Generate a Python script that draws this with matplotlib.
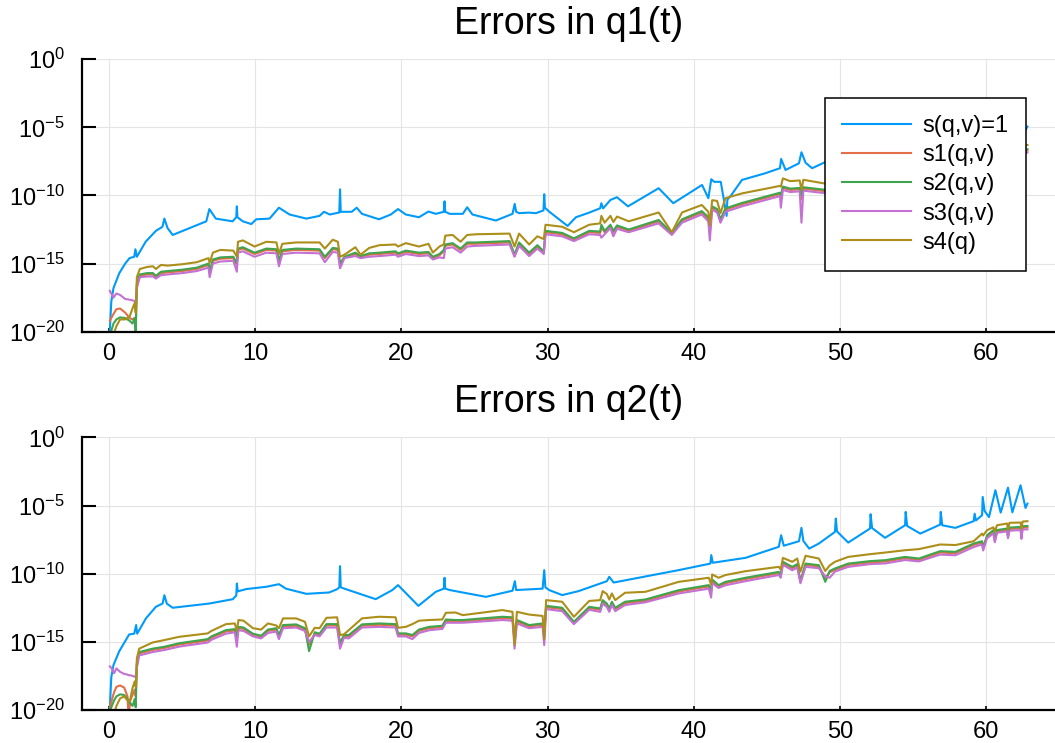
import matplotlib.pyplot as plt
import numpy as np
from matplotlib.ticker import FixedLocator, FuncFormatter

plt.rcParams['font.family'] = ['Liberation Sans', 'DejaVu Sans']
plt.rcParams['mathtext.fontset'] = 'custom'
plt.rcParams['mathtext.rm'] = 'Liberation Sans'
plt.rcParams['mathtext.it'] = 'Liberation Sans:italic'
plt.rcParams['mathtext.default'] = 'regular'

labels = ['s(q,v)=1', 's1(q,v)', 's2(q,v)', 's3(q,v)', 's4(q)']
colors = ['#009AFA', '#E36F47', '#3EA44E', '#C371D2', '#AC8E18']
titles = ['Errors in q1(t)', 'Errors in q2(t)']
xticks = [0, 10, 20, 30, 40, 50, 60]
yticks = [-20, -15, -10, -5, 0]   # exponents of 10

# values below are log10 of the error

# ---- q1(t) ----
q1_t_s0 = [0.02, 0.15, 0.3, 0.7, 1.1, 1.4, 1.72, 1.8, 1.9, 2.5,
           3.2, 3.65, 3.78, 4.0, 4.35, 5.5, 6.65, 6.86, 7.3, 8.45,
           8.7, 8.74, 8.78, 9.15, 9.73, 10.07, 10.98, 11.62, 12.35, 13.5,
           14.4, 14.7, 15.1, 15.75, 15.8, 15.85, 16.6, 16.94, 17.3, 18.47,
           19.27, 19.77, 20.3, 21.2, 21.85, 22.35, 22.9, 22.95, 23.0, 23.3,
           24.2, 24.5, 24.86, 26.46, 27.6, 27.75, 27.85, 28.06, 28.7, 29.2,
           29.72, 29.77, 29.82, 30.1, 31.37, 31.94, 32.85, 33.6, 33.68, 33.8,
           34.3, 34.75, 35.5, 37.6, 38.6, 40.57, 41.0, 41.2, 41.4, 41.85,
           42.25, 42.3, 42.5, 43.3, 44.9, 45.9, 45.98, 46.28, 47.2, 47.37,
           47.65, 48.1, 49.1, 55.0, 62.5, 62.65, 62.83]
q1_s0 = [-20.5, -17.8, -16.8, -15.7, -15.0, -14.6, -14.5, -13.95, -14.5, -13.4,
         -12.6, -12.3, -11.7, -12.4, -12.9, -12.4, -11.9, -11.0, -11.7, -11.9,
         -11.6, -10.8, -11.6, -11.9, -12.1, -11.75, -11.7, -10.9, -11.4, -11.7,
         -11.5, -11.2, -11.4, -11.25, -9.55, -11.2, -11.2, -10.9, -11.35, -11.75,
         -11.4, -11.0, -11.4, -11.6, -11.18, -11.35, -11.2, -10.43, -11.2, -11.35,
         -11.35, -10.87, -11.4, -11.84, -11.35, -10.62, -11.2, -11.3, -11.26, -11.3,
         -11.1, -9.91, -10.9, -11.18, -12.24, -11.6, -11.26, -10.94, -10.57, -10.95,
         -10.33, -10.13, -10.8, -9.47, -10.57, -9.23, -10.2, -8.81, -9.0, -9.0,
         -11.5, -10.3, -10.08, -8.86, -8.37, -8.0, -7.32, -8.13, -7.64, -6.83,
         -7.6, -8.0, -7.5, -6.3, -5.0, -5.3, -4.95]

q1_t = [0.05, 0.3, 0.5, 0.75, 1.1, 1.4, 1.6, 1.75, 1.82, 1.9,
        2.1, 2.6, 3.0, 3.2, 3.55, 4.0, 5.0, 6.0, 6.8, 6.88,
        7.1, 7.6, 8.5, 8.74, 8.82, 9.15, 9.95, 10.76, 11.45, 11.62,
        11.85, 12.8, 14.4, 14.76, 15.3, 15.65, 15.8, 16.1, 16.85, 17.2,
        17.8, 18.5, 19.6, 19.77, 20.3, 21.2, 21.85, 22.15, 22.6, 22.9,
        23.0, 23.5, 24.05, 24.5, 25.1, 27.4, 27.74, 28.05, 28.74, 29.3,
        29.74, 29.86, 31.0, 31.8, 32.85, 33.6, 33.68, 33.9, 34.3, 34.5,
        34.75, 35.55, 37.6, 38.5, 39.2, 40.55, 41.0, 41.1, 41.26, 41.6,
        41.83, 42.17, 43.3, 45.9, 45.96, 46.1, 46.6, 47.25, 47.37, 47.5,
        49.1, 55.0, 62.0, 62.83]
q1_s1 = [-19.2, -18.7, -18.35, -18.3, -18.6, -19.0, -19.1, -19.0, -19.5, -16.6,
         -15.9, -15.8, -15.8, -16.0, -15.7, -15.65, -15.55, -15.4, -15.1, -15.7,
         -14.8, -14.65, -14.6, -15.1, -14.0, -13.9, -14.3, -14.0, -14.05, -14.9,
         -14.1, -14.0, -14.05, -14.6, -13.95, -14.0, -15.1, -14.55, -14.3, -14.5,
         -14.35, -14.3, -14.2, -14.35, -14.15, -14.3, -14.25, -14.6, -14.4, -14.1,
         -13.7, -13.6, -14.0, -13.55, -13.55, -13.45, -14.45, -13.55, -14.3, -13.75,
         -14.2, -12.7, -12.85, -13.25, -12.7, -12.75, -12.3, -12.7, -12.25, -12.7,
         -12.3, -12.6, -11.9, -12.8, -11.85, -11.25, -11.7, -12.7, -10.9, -11.1,
         -11.85, -11.05, -10.65, -9.9, -10.2, -9.45, -9.6, -9.55, -10.3, -9.5,
         -9.7, -8.4, -6.75, -6.7]
q1_s2 = [-20.3, -19.4, -19.1, -18.95, -19.0, -19.2, -19.4, -19.0, -20.3, -16.5,
         -15.8, -15.7, -15.7, -15.9, -15.6, -15.55, -15.45, -15.3, -15.0, -15.6,
         -14.7, -14.55, -14.5, -15.0, -13.9, -13.8, -14.2, -13.9, -13.95, -14.8,
         -14.0, -13.9, -13.95, -14.5, -13.85, -13.9, -15.0, -14.5, -14.2, -14.45,
         -14.25, -14.2, -14.1, -14.25, -14.05, -14.2, -14.15, -14.5, -14.3, -14.0,
         -13.6, -13.5, -13.9, -13.45, -13.45, -13.35, -14.35, -13.45, -14.2, -13.65,
         -14.1, -12.6, -12.75, -13.15, -12.6, -12.65, -12.15, -12.6, -12.15, -12.6,
         -12.2, -12.5, -11.8, -12.75, -11.75, -11.15, -11.6, -12.5, -10.8, -11.0,
         -11.75, -10.95, -10.55, -9.8, -10.0, -9.35, -9.5, -9.45, -10.0, -9.4,
         -9.6, -8.3, -6.65, -6.6]
q1_s3 = [-17.0, -17.5, -17.2, -17.3, -17.6, -17.65, -17.7, -17.75, -17.9, -16.8,
         -16.0, -15.95, -15.95, -16.1, -15.85, -15.8, -15.7, -15.55, -15.3, -16.0,
         -15.0, -14.85, -14.8, -15.6, -14.2, -14.1, -14.5, -14.2, -14.25, -15.2,
         -14.3, -14.2, -14.25, -14.9, -14.15, -14.2, -15.35, -14.6, -14.45, -14.6,
         -14.5, -14.45, -14.35, -14.5, -14.3, -14.45, -14.4, -14.7, -14.55, -14.6,
         -13.9, -13.8, -14.2, -13.75, -13.7, -13.6, -14.5, -13.7, -14.45, -13.9,
         -14.3, -12.85, -13.0, -13.35, -12.85, -12.9, -13.1, -12.85, -12.4, -13.0,
         -12.45, -12.7, -12.05, -12.9, -12.0, -11.4, -11.9, -13.3, -11.05, -11.25,
         -12.0, -11.2, -10.8, -10.05, -10.9, -9.6, -9.75, -9.7, -12.0, -9.65,
         -9.85, -8.55, -6.9, -6.85]
q1_s4 = [-20.5, -20.2, -19.6, -19.1, -19.1, -18.9, -18.3, -17.9, -18.6, -16.0,
         -15.4, -15.25, -15.2, -15.4, -15.1, -15.15, -15.05, -14.9, -14.6, -14.95,
         -14.2, -14.0, -14.05, -14.5, -13.4, -13.3, -13.75, -13.4, -13.45, -14.3,
         -13.55, -13.45, -13.45, -13.9, -13.25, -13.4, -14.5, -14.35, -13.8, -14.35,
         -13.85, -13.65, -13.6, -13.75, -13.5, -13.75, -13.55, -14.2, -13.75, -13.6,
         -12.95, -12.9, -13.4, -12.9, -12.85, -12.8, -13.75, -12.8, -13.6, -13.0,
         -13.2, -12.15, -12.3, -12.7, -12.15, -12.05, -11.5, -12.0, -11.5, -11.95,
         -11.55, -11.9, -11.25, -12.7, -11.25, -10.7, -11.2, -12.2, -10.35, -10.4,
         -11.3, -10.2, -9.85, -9.3, -9.35, -8.75, -8.95, -8.9, -9.6, -8.85,
         -9.15, -7.9, -6.35, -6.3]

# ---- q2(t) ----
q2_t_s0 = [0.02, 0.15, 0.3, 0.69, 1.37, 1.72, 1.85, 1.92, 2.52, 3.2,
           3.66, 3.78, 3.95, 4.35, 6.86, 8.47, 8.7, 8.74, 8.8, 9.38,
           10.76, 11.62, 12.1, 13.5, 15.05, 15.6, 15.75, 15.8, 15.85, 16.07,
           18.24, 19.38, 19.77, 21.16, 22.35, 22.9, 22.95, 23.0, 23.3, 25.78,
           27.6, 27.76, 27.85, 29.66, 29.77, 29.85, 30.1, 31.0, 32.12, 34.06,
           34.22, 34.52, 38.97, 41.14, 41.2, 41.3, 43.54, 45.82, 45.98, 46.16,
           47.2, 47.37, 47.5, 47.9, 48.56, 49.66, 49.72, 49.8, 50.57, 52.06,
           52.1, 52.2, 53.09, 54.46, 54.5, 54.6, 55.5, 56.86, 56.9, 57.0,
           57.9, 59.15, 59.22, 59.3, 59.73, 59.77, 59.9, 60.2, 60.64, 61.0,
           61.5, 61.8, 62.36, 62.7, 62.83]
q2_s0 = [-20.5, -17.6, -16.7, -15.7, -14.46, -14.4, -13.77, -14.4, -13.28, -12.43,
         -12.19, -11.58, -12.2, -12.5, -12.19, -11.87, -11.6, -10.72, -11.3, -11.13,
         -10.96, -10.77, -11.1, -11.48, -11.38, -11.14, -11.0, -9.45, -11.0, -11.09,
         -11.87, -11.2, -10.84, -12.36, -11.33, -11.1, -10.3, -11.1, -11.2, -11.7,
         -11.25, -10.55, -11.2, -11.1, -9.74, -11.0, -11.2, -11.57, -11.28, -10.55,
         -10.23, -10.65, -9.74, -9.26, -8.64, -9.2, -8.84, -8.03, -7.18, -7.95,
         -7.62, -6.64, -7.6, -8.16, -7.79, -6.94, -5.96, -6.9, -7.72, -6.69,
         -5.64, -6.65, -7.37, -6.45, -5.47, -6.5, -7.06, -6.4, -5.47, -6.45,
         -6.64, -6.15, -5.6, -6.1, -5.71, -4.37, -5.4, -5.85, -3.88, -5.52,
         -3.69, -5.5, -3.52, -5.18, -4.86]

q2_t = [0.05, 0.15, 0.34, 0.5, 0.75, 1.03, 1.26, 1.33, 1.45, 1.6,
        1.75, 1.82, 1.9, 2.06, 2.97, 3.78, 4.8, 6.75, 7.0, 8.0,
        8.6, 8.74, 8.85, 9.2, 9.84, 10.4, 10.87, 11.44, 11.62, 11.9,
        12.8, 13.4, 13.68, 14.07, 14.4, 14.87, 15.6, 15.8, 16.07, 16.4,
        17.3, 18.47, 19.6, 19.77, 20.3, 20.75, 21.2, 21.9, 22.8, 23.04,
        23.7, 24.2, 26.9, 27.6, 27.74, 27.9, 28.74, 29.66, 29.77, 29.9,
        31.0, 31.8, 32.85, 33.6, 33.77, 34.06, 34.22, 34.4, 34.63, 35.3,
        36.7, 38.97, 41.03, 41.19, 41.26, 41.7, 42.17, 43.54, 45.82, 45.95,
        46.1, 46.74, 47.08, 47.3, 47.65, 48.56, 49.0, 49.3, 49.66, 50.57,
        52.06, 53.1, 54.46, 55.4, 56.86, 57.9, 59.15, 59.73, 59.8, 60.07,
        60.5, 60.6, 60.75, 61.44, 61.5, 61.6, 62.36, 62.42, 62.5, 62.83]
q2_s1 = [-19.8, -19.4, -18.7, -18.3, -18.2, -18.35, -19.0, -20.5, -19.3, -18.9,
         -18.5, -19.0, -16.7, -15.85, -15.6, -15.45, -15.2, -14.9, -14.7, -14.24,
         -14.17, -14.7, -14.0, -14.05, -14.5, -14.65, -14.2, -14.1, -14.6, -13.87,
         -13.82, -14.1, -15.2, -14.4, -14.5, -13.8, -13.8, -15.2, -14.6, -14.6,
         -13.82, -13.75, -13.8, -14.48, -14.48, -14.6, -14.2, -14.0, -13.92, -13.46,
         -13.5, -13.5, -13.26, -13.3, -14.9, -13.5, -13.87, -13.75, -14.6, -12.46,
         -12.6, -13.6, -12.53, -12.65, -12.04, -12.3, -12.65, -12.16, -12.6, -12.16,
         -11.99, -11.31, -10.94, -11.45, -10.53, -10.94, -10.7, -10.4, -9.97, -10.2,
         -9.23, -9.6, -9.4, -10.5, -9.36, -9.48, -10.3, -9.9, -9.72, -9.36,
         -9.18, -9.11, -8.87, -8.99, -8.45, -8.5, -7.89, -7.72, -8.0, -7.28,
         -6.91, -7.6, -6.9, -6.79, -7.3, -6.72, -6.67, -7.3, -6.62, -6.6]
q2_s2 = [-20.3, -19.8, -19.3, -19.0, -18.85, -18.9, -19.2, -19.35, -19.5, -19.7,
         -19.2, -19.8, -16.6, -15.75, -15.5, -15.36, -15.1, -14.8, -14.6, -14.14,
         -14.07, -14.6, -13.9, -13.95, -14.4, -14.55, -14.1, -14.0, -14.5, -13.77,
         -13.72, -14.0, -15.68, -14.3, -14.4, -13.7, -13.7, -15.1, -14.5, -14.5,
         -13.72, -13.65, -13.7, -14.38, -14.38, -14.5, -14.1, -13.9, -13.82, -13.36,
         -13.4, -13.4, -13.16, -13.2, -14.75, -13.4, -13.77, -13.65, -14.4, -12.36,
         -12.5, -13.53, -12.43, -12.55, -11.94, -12.2, -12.55, -12.06, -12.5, -12.06,
         -11.89, -11.21, -10.84, -11.3, -10.43, -10.84, -10.6, -10.3, -9.87, -10.1,
         -9.13, -9.5, -9.3, -10.6, -9.26, -9.38, -10.6, -9.8, -9.62, -9.26,
         -9.08, -9.01, -8.77, -8.89, -8.35, -8.4, -7.79, -7.62, -8.2, -7.18,
         -6.81, -7.5, -6.8, -6.69, -7.2, -6.62, -6.57, -7.2, -6.52, -6.5]
q2_s3 = [-16.8, -16.9, -17.3, -16.95, -17.2, -17.35, -17.4, -17.45, -17.45, -17.5,
         -17.55, -17.6, -16.9, -16.0, -15.75, -15.6, -15.35, -15.05, -14.85, -14.4,
         -14.3, -15.36, -14.15, -14.2, -14.6, -14.75, -14.35, -14.25, -14.8, -14.0,
         -13.95, -14.2, -15.0, -14.5, -14.6, -13.95, -13.95, -15.5, -14.7, -14.75,
         -13.95, -13.9, -13.95, -14.6, -14.6, -14.8, -14.35, -14.15, -14.05, -13.6,
         -13.6, -13.6, -13.4, -13.45, -15.5, -13.65, -14.0, -13.9, -15.24, -12.6,
         -12.75, -13.7, -12.65, -12.8, -12.2, -12.45, -12.8, -12.3, -12.75, -12.3,
         -12.1, -11.45, -11.1, -11.75, -10.7, -11.05, -10.85, -10.55, -10.1, -10.3,
         -9.35, -9.75, -9.55, -10.7, -9.5, -9.6, -10.2, -10.3, -9.85, -9.5,
         -9.3, -9.25, -9.0, -9.1, -8.6, -8.65, -8.05, -7.85, -8.3, -7.4,
         -7.05, -7.7, -7.0, -6.9, -7.4, -6.85, -6.8, -7.45, -6.75, -6.75]
q2_s4 = [-20.5, -20.5, -20.3, -19.7, -19.15, -19.0, -19.3, -19.4, -19.2, -18.4,
         -17.9, -18.3, -16.2, -15.5, -15.05, -14.87, -14.63, -14.38, -14.2, -13.7,
         -13.65, -14.2, -13.4, -13.45, -14.0, -14.1, -13.65, -13.8, -14.0, -13.28,
         -13.28, -13.53, -14.6, -13.97, -14.0, -13.24, -13.2, -14.5, -14.45, -14.14,
         -13.28, -13.16, -13.2, -13.97, -13.9, -13.7, -13.45, -13.4, -13.36, -12.87,
         -12.85, -13.04, -12.67, -12.8, -15.24, -12.8, -13.0, -13.1, -14.8, -11.94,
         -12.06, -13.16, -12.0, -11.94, -11.28, -11.5, -11.9, -11.45, -11.94, -11.4,
         -11.33, -10.6, -10.3, -10.8, -10.06, -10.3, -10.1, -9.82, -9.5, -9.7,
         -8.84, -9.13, -8.89, -9.86, -8.69, -8.89, -9.8, -9.4, -9.13, -8.77,
         -8.57, -8.45, -8.28, -8.2, -7.86, -7.9, -7.62, -7.06, -7.2, -6.81,
         -6.6, -6.9, -6.45, -6.32, -6.8, -6.27, -6.25, -6.7, -6.18, -6.15]

panels = [
    (q1_t_s0, q1_s0, q1_t, [q1_s1, q1_s2, q1_s3, q1_s4]),
    (q2_t_s0, q2_s0, q2_t, [q2_s1, q2_s2, q2_s3, q2_s4]),
]


def exp_label(v, pos):
    return r'$10^{%d}$' % round(np.log10(v))


fig = plt.figure(figsize=(10.55, 7.43), dpi=100)
ax1 = fig.add_axes([0.0773, 0.5536, 0.9227, 0.3667])
ax2 = fig.add_axes([0.0773, 0.0444, 0.9227, 0.3670])

for ax, title, (t0, s0, t, others) in zip([ax1, ax2], titles, panels):
    ax.plot(t0, 10.0 ** np.array(s0), color=colors[0], lw=1.5, label=labels[0])
    for k, s in enumerate(others):
        ax.plot(t, 10.0 ** np.array(s), color=colors[k + 1], lw=1.5,
                label=labels[k + 1])

    ax.set_yscale('log')
    ax.set_ylim(1e-20, 1e0)
    ax.set_xlim(-1.885, 64.717)
    ax.yaxis.set_major_locator(FixedLocator([10.0 ** e for e in yticks]))
    ax.yaxis.set_major_formatter(FuncFormatter(exp_label))
    ax.yaxis.set_minor_locator(FixedLocator([]))
    ax.set_xticks(xticks)
    ax.set_xticklabels([str(x) for x in xticks])

    ax.grid(True, color='#e4e4e4', lw=0.8)
    ax.set_axisbelow(True)
    for side in ['top', 'right']:
        ax.spines[side].set_visible(False)
    for side in ['left', 'bottom']:
        ax.spines[side].set_linewidth(1.6)
    ax.tick_params(axis='y', direction='in', length=10, width=1.5, pad=12,
                   labelsize=17)
    ax.tick_params(axis='x', direction='in', length=3, width=1.2, pad=8,
                   labelsize=17)
    ax.set_title(title, fontsize=27, pad=18)

leg = ax1.legend(loc='upper right', bbox_to_anchor=(0.970, 0.8565),
                 borderaxespad=0, fontsize=17, handlelength=2.9,
                 handletextpad=0.5, labelspacing=0.3, borderpad=0.72,
                 fancybox=False, framealpha=1, edgecolor='black')
leg.get_frame().set_linewidth(1.1)

fig.savefig('out.png', dpi=100)
